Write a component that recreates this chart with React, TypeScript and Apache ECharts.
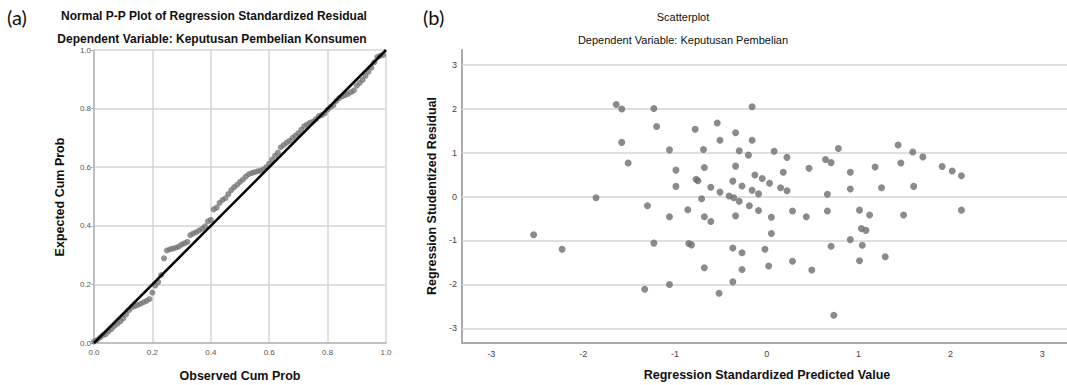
import React, { useEffect, useRef } from "react";
import * as echarts from "echarts";

// ---- Panel (a): Normal P-P plot ----
const ppObserved = [
  0.00, 0.01, 0.02, 0.03, 0.04, 0.05, 0.06, 0.07, 0.08, 0.09,
  0.10, 0.11, 0.12, 0.13, 0.14, 0.15, 0.16, 0.17, 0.18, 0.19,
  0.20, 0.21, 0.22, 0.23, 0.24, 0.25, 0.26, 0.27, 0.28, 0.29,
  0.30, 0.31, 0.32, 0.33, 0.34, 0.35, 0.36, 0.37, 0.38, 0.39,
  0.40, 0.41, 0.42, 0.43, 0.44, 0.45, 0.46, 0.47, 0.48, 0.49,
  0.50, 0.51, 0.52, 0.53, 0.54, 0.55, 0.56, 0.57, 0.58, 0.59,
  0.60, 0.61, 0.62, 0.63, 0.64, 0.65, 0.66, 0.67, 0.68, 0.69,
  0.70, 0.71, 0.72, 0.73, 0.74, 0.75, 0.76, 0.77, 0.78, 0.79,
  0.80, 0.81, 0.82, 0.83, 0.84, 0.85, 0.86, 0.87, 0.88, 0.89,
  0.90, 0.91, 0.92, 0.93, 0.94, 0.95, 0.96, 0.97, 0.98, 0.99,
];
const ppExpected = [
  0.005, 0.010, 0.018, 0.026, 0.030, 0.040, 0.048, 0.058, 0.066, 0.074,
  0.084, 0.098, 0.112, 0.122, 0.126, 0.130, 0.134, 0.139, 0.144, 0.150,
  0.172, 0.196, 0.208, 0.232, 0.289, 0.316, 0.320, 0.322, 0.325, 0.329,
  0.336, 0.340, 0.345, 0.368, 0.374, 0.378, 0.384, 0.390, 0.398, 0.415,
  0.420, 0.456, 0.462, 0.478, 0.488, 0.494, 0.508, 0.522, 0.532, 0.540,
  0.550, 0.558, 0.568, 0.576, 0.580, 0.583, 0.586, 0.588, 0.592, 0.600,
  0.612, 0.626, 0.640, 0.650, 0.668, 0.676, 0.684, 0.690, 0.700, 0.708,
  0.716, 0.728, 0.740, 0.746, 0.752, 0.756, 0.764, 0.774, 0.778, 0.784,
  0.796, 0.805, 0.812, 0.826, 0.836, 0.842, 0.846, 0.850, 0.856, 0.862,
  0.878, 0.888, 0.898, 0.912, 0.926, 0.940, 0.958, 0.976, 0.980, 0.983,
];
const refLine = [
  [0, 0],
  [1, 1],
];

// ---- Panel (b): Scatterplot ----
const predictedValue = [
  -1.64, -1.58, -1.23, -1.20, -1.58, -1.51, -1.86, -1.30, -1.06, -0.99,
  -0.99, -1.06, -0.86, -0.78, -0.69, -0.68, -0.77, -0.75, -0.71, -0.68,
  -0.61, -0.54, -0.51, -0.51, -0.61, -0.34, -0.30, -0.34, -0.37, -0.27,
  -0.41, -0.36, -0.30, -0.34, -0.19, -0.09, -0.16, -0.16, -0.20, -0.13,
  -0.05, -0.16, -0.09, 0.03, 0.08, 0.22, 0.18, 0.15, 0.22, 0.46,
  0.64, 0.70, 0.78, 0.66, 0.91, 0.91, 1.18, 1.25, 1.43, 1.46,
  1.59, 1.70, 1.60, 1.91, 2.02, 2.12, 2.12, 0.05, 0.28, 0.43,
  0.66, 1.01, 1.12, 1.49, 0.05, 1.03, 1.08, 0.91, -0.02, 0.70,
  1.04, 0.28, 1.01, 1.29, 0.02, 0.49, 0.73, -2.54, -2.23, -1.23,
  -0.85, -0.82, -0.68, -0.37, -0.27, -0.27, -0.37, -1.33, -1.06, -0.52,
];
const studentizedResidual = [
  2.09, 1.99, 2.00, 1.59, 1.23, 0.76, -0.03, -0.21, 1.06, 0.60,
  0.23, -0.46, -0.30, 1.53, 1.07, 0.66, 0.39, 0.36, -0.05, -0.46,
  0.21, 1.67, 1.28, 0.10, -0.57, 1.45, 1.04, 0.69, 0.35, 0.24,
  0.01, -0.03, -0.11, -0.44, -0.21, -0.32, 2.04, 1.28, 0.94, 0.49,
  0.41, 0.14, 0.06, 0.30, 1.03, 0.89, 0.55, 0.20, 0.13, 0.64,
  0.84, 0.77, 1.09, 0.05, 0.55, 0.17, 0.67, 0.20, 1.17, 0.76,
  1.01, 0.90, 0.23, 0.68, 0.58, 0.47, -0.31, -0.47, -0.33, -0.46,
  -0.33, -0.31, -0.42, -0.42, -0.84, -0.73, -0.77, -0.98, -1.20, -1.13,
  -1.11, -1.47, -1.46, -1.37, -1.58, -1.67, -2.70, -0.87, -1.20, -1.06,
  -1.07, -1.10, -1.62, -1.17, -1.28, -1.66, -1.94, -2.11, -2.00, -2.20,
];
const residualTicks = [-3, -2, -1, 0, 1, 2, 3];
const predictedTicks = [-3, -2, -1, 0, 1, 2, 3];

const FONT = "'Liberation Sans', Arial, sans-serif";

export default function App() {
  const ref = useRef<HTMLDivElement>(null);

  useEffect(() => {
    if (!ref.current) return;
    const chart = echarts.init(ref.current, null, { renderer: "svg" });

    const ppData = ppObserved.map((x, i) => [x, ppExpected[i]]);
    const scData = predictedValue.map((x, i) => [x, studentizedResidual[i]]);

    const titleText = (text: string, x: number, y: number, font: string, extra: any = {}) => ({
      type: "text",
      x,
      y,
      silent: true,
      ...extra,
      style: {
        text,
        font,
        fill: "#111",
        align: "center",
        verticalAlign: "middle",
      },
    });

    chart.setOption({
      animation: false,
      backgroundColor: "#ffffff",
      textStyle: { fontFamily: FONT },
      grid: [
        { left: 94, top: 50, width: 292, height: 293 },
        { left: 462, top: 50, right: 0, height: 293 },
      ],
      xAxis: [
        {
          type: "value",
          gridIndex: 0,
          min: 0,
          max: 1,
          interval: 0.2,
          axisLine: { show: true, onZero: false, lineStyle: { color: "#b5b5b5", width: 1.5 } },
          axisTick: { show: false },
          axisLabel: {
            fontSize: 8,
            color: "#555",
            margin: 5,
            formatter: (v: number) => v.toFixed(1),
          },
          splitLine: { show: true, lineStyle: { color: "#d6d6d6", width: 1.5 } },
        },
        {
          type: "value",
          gridIndex: 1,
          min: -3.32,
          max: 3.27,
          axisLine: { show: true, onZero: false, lineStyle: { color: "#aaaaaa", width: 2 } },
          axisTick: { show: false },
          axisLabel: {
            fontSize: 9,
            color: "#444",
            margin: 6,
            customValues: predictedTicks,
          },
          splitLine: { show: false },
        },
      ],
      yAxis: [
        {
          type: "value",
          gridIndex: 0,
          min: 0,
          max: 1,
          interval: 0.2,
          axisLine: { show: true, onZero: false, lineStyle: { color: "#b5b5b5", width: 1.5 } },
          axisTick: { show: true, length: 3, lineStyle: { color: "#b5b5b5" } },
          axisLabel: {
            fontSize: 8,
            color: "#555",
            margin: 3,
            formatter: (v: number) => v.toFixed(1),
          },
          splitLine: { show: true, lineStyle: { color: "#d6d6d6", width: 1.5 } },
        },
        {
          type: "value",
          gridIndex: 1,
          min: -3.33,
          max: 3.33,
          axisLine: { show: true, onZero: false, lineStyle: { color: "#aaaaaa", width: 2 } },
          axisTick: { show: false },
          axisLabel: {
            fontSize: 9,
            color: "#444",
            margin: 5,
            customValues: residualTicks,
          },
          splitLine: { show: false },
        },
      ],
      series: [
        {
          type: "scatter",
          xAxisIndex: 0,
          yAxisIndex: 0,
          data: ppData,
          symbolSize: 6,
          itemStyle: { color: "#777777" },
          z: 2,
          silent: true,
        },
        {
          type: "line",
          xAxisIndex: 0,
          yAxisIndex: 0,
          data: refLine,
          showSymbol: false,
          symbol: "none",
          lineStyle: { color: "#000", width: 2.5 },
          z: 3,
          silent: true,
        },
        {
          type: "scatter",
          xAxisIndex: 1,
          yAxisIndex: 1,
          data: scData,
          symbolSize: 7,
          itemStyle: { color: "#6e6e6e" },
          z: 3,
          silent: true,
          markLine: {
            z: 1,
            silent: true,
            symbol: ["none", "none"],
            label: { show: false },
            lineStyle: { color: "#d4d4d4", width: 1.5, type: "solid" },
            data: residualTicks.map((v) => ({ yAxis: v })),
          },
        },
      ],
      graphic: [
        {
          type: "text",
          x: 7,
          y: 17,
          silent: true,
          style: { text: "(a)", font: "20px Lato, 'Open Sans', sans-serif", fill: "#111", verticalAlign: "middle" },
        },
        {
          type: "text",
          x: 423,
          y: 17,
          silent: true,
          style: { text: "(b)", font: "20px Lato, 'Open Sans', sans-serif", fill: "#111", verticalAlign: "middle" },
        },
        titleText("Normal P-P Plot of Regression Standardized Residual", 214, 16, `bold 12px ${FONT}`),
        titleText("Dependent Variable: Keputusan Pembelian Konsumen", 212, 39, `bold 12px ${FONT}`),
        titleText("Scatterplot", 683, 17, `11px ${FONT}`),
        titleText("Dependent Variable: Keputusan Pembelian", 683, 40, `11px ${FONT}`),
        titleText("Observed Cum Prob", 240, 376, `bold 12.5px ${FONT}`),
        titleText("Expected Cum Prob", 60, 197, `bold 12.5px ${FONT}`, { rotation: Math.PI / 2 }),
        titleText("Regression Standardized Predicted Value", 767, 375, `bold 12.5px ${FONT}`),
        titleText("Regression Studentized Residual", 432, 196, `bold 12.5px ${FONT}`, { rotation: Math.PI / 2 }),
      ],
    });

    return () => chart.dispose();
  }, []);

  return (
    <div
      ref={ref}
      style={{ position: "fixed", left: 0, top: 0, width: 1067, height: 385, background: "#fff" }}
    />
  );
}
